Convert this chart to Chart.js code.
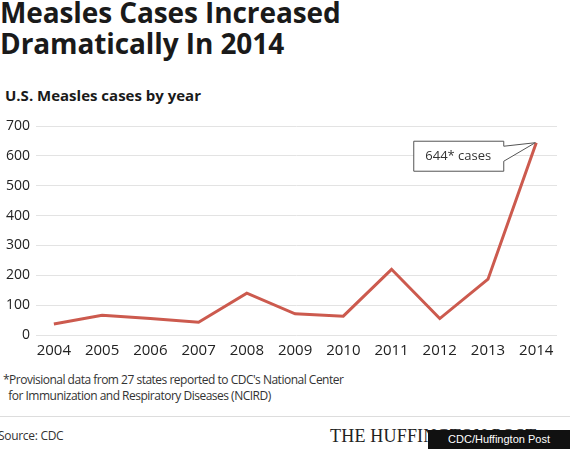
<!DOCTYPE html>
<html>
<head>
<meta charset="utf-8">
<script src="https://cdn.jsdelivr.net/npm/chart.js@4.4.0/dist/chart.umd.min.js"></script>
<style>
    body { margin: 0; background: #fff; width: 570px; height: 449px; overflow: hidden; position: relative; font-family: "Open Sans", sans-serif; color: #1a1a1a; }
    #title { position: absolute; left: 0; top: -3px; font-size: 28px; font-weight: bold; line-height: 31px; letter-spacing: -0.1px; }
    #subtitle { position: absolute; left: 5px; top: 85px; font-size: 15px; font-weight: bold; }
    #wrap { position: absolute; left: 0; top: 110px; width: 570px; height: 255px; }
    #note { position: absolute; left: 3px; top: 372px; font-size: 12px; line-height: 16px; color: #333; letter-spacing: -0.5px; }
    #rule { position: absolute; left: 0; top: 416px; width: 570px; border-top: 1px solid #ddd; }
    #source { position: absolute; left: -2px; top: 427px; font-size: 12px; color: #333; letter-spacing: -0.3px; }
    #huff { position: absolute; left: 330px; top: 426px; font-family: "Liberation Serif", serif; font-size: 18px; color: #222; letter-spacing: 0.2px; }
    #credit { position: absolute; left: 428px; top: 430px; width: 142px; height: 19px; background: #111; color: #fff; font-family: "Liberation Sans", Arial, sans-serif; font-size: 11px; line-height: 19px; text-align: center; }
</style>
</head>
<body>
<div id="title">Measles Cases Increased<br>Dramatically In 2014</div>
<div id="subtitle">U.S. Measles cases by year</div>
<div id="wrap"><canvas id="chart" width="570" height="255"></canvas></div>
<div id="note">*Provisional data from 27 states reported to CDC's National Center<br>&nbsp;&nbsp;for Immunization and Respiratory Diseases (NCIRD)</div>
<div id="rule"></div>
<div id="source">Source: CDC</div>
<div id="huff">THE HUFFINGTON POST</div>
<div id="credit">CDC/Huffington Post</div>
<script>
const years = [2004, 2005, 2006, 2007, 2008, 2009, 2010, 2011, 2012, 2013, 2014];
const cases = [37, 66, 55, 43, 140, 71, 63, 220, 55, 187, 644];
const yTicks = [0, 100, 200, 300, 400, 500, 600, 700];
const calloutText = "644* cases";

// box with a pointer to the last point
const callout = {
    id: 'callout',
    afterDatasetsDraw(chart) {
        const ctx = chart.ctx;
        const pt = chart.getDatasetMeta(0).data[years.length - 1];
        const tx = pt.x - 1, ty = pt.y;
        const right = tx - 32, left = right - 90, top = ty - 2, bottom = ty + 28;
        ctx.save();
        ctx.fillStyle = '#fff';
        ctx.strokeStyle = '#555';
        ctx.lineWidth = 1;
        ctx.beginPath();
        ctx.moveTo(left + 0.5, top + 0.5);
        ctx.lineTo(right + 0.5, top + 0.5);
        ctx.lineTo(right + 0.5, top + 5.5);
        ctx.lineTo(tx, ty);
        ctx.lineTo(right + 0.5, top + 20.5);
        ctx.lineTo(right + 0.5, bottom + 0.5);
        ctx.lineTo(left + 0.5, bottom + 0.5);
        ctx.closePath();
        ctx.fill();
        ctx.stroke();
        ctx.fillStyle = '#333';
        ctx.font = '13px "Open Sans"';
        ctx.textAlign = 'center';
        ctx.textBaseline = 'middle';
        ctx.fillText(calloutText, (left + right) / 2, (top + bottom) / 2 + 1);
        ctx.restore();
    }
};

new Chart(document.getElementById('chart'), {
    type: 'line',
    data: {
        datasets: [{
            data: years.map((y, i) => ({ x: y, y: cases[i] })),
            borderColor: '#cc5a4e',
            borderWidth: 3,
            pointRadius: 0,
            tension: 0,
            fill: false
        }]
    },
    options: {
        responsive: false,
        animation: false,
        layout: { padding: { left: 0, right: 13, top: 16, bottom: 6 } },
        plugins: { legend: { display: false }, tooltip: { enabled: false } },
        scales: {
            x: {
                type: 'linear',
                min: 2003.63,
                max: 2014.43,
                afterBuildTicks: axis => { axis.ticks = years.map(v => ({ value: v })); },
                grid: { display: false },
                border: { display: false },
                ticks: { color: '#222', font: { family: 'Open Sans', size: 15 }, padding: -1, maxRotation: 0, autoSkip: false, callback: v => String(v) }
            },
            y: {
                min: 0,
                max: 700,
                afterBuildTicks: axis => { axis.ticks = yTicks.map(v => ({ value: v })); },
                grid: { color: '#e3e3e3', lineWidth: 1, drawTicks: false },
                border: { display: false },
                ticks: { color: '#222', font: { family: 'Open Sans', size: 14 }, padding: 6 }
            }
        }
    },
    plugins: [callout]
});
</script>
</body>
</html>
